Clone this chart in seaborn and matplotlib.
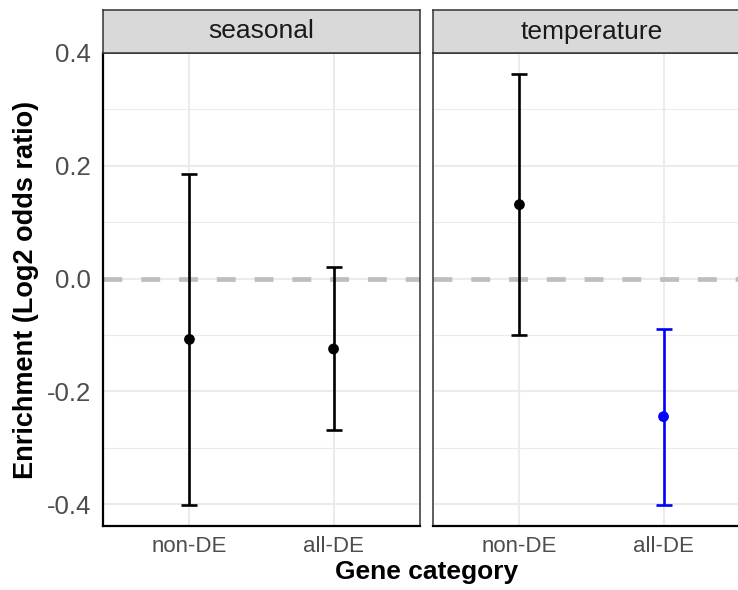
import matplotlib
matplotlib.use("Agg")
import matplotlib.pyplot as plt
import seaborn as sns
import pandas as pd

# Enrichment estimates with confidence limits per facet and gene category
facets = ["seasonal", "seasonal", "temperature", "temperature"]
categories = ["non-DE", "all-DE", "non-DE", "all-DE"]
estimate = [-0.108, -0.125, 0.131, -0.245]
lower = [-0.401, -0.269, -0.100, -0.401]
upper = [0.185, 0.020, 0.362, -0.090]
highlight = ["no", "no", "no", "yes"]

category_order = ["non-DE", "all-DE"]
facet_order = ["seasonal", "temperature"]
y_ticks = [-0.4, -0.2, 0.0, 0.2, 0.4]
y_minor = [-0.3, -0.1, 0.1, 0.3]

df = pd.DataFrame({
    "facet": facets,
    "category": categories,
    "estimate": estimate,
    "lower": lower,
    "upper": upper,
    "highlight": highlight,
})
df["xpos"] = df["category"].map({c: i for i, c in enumerate(category_order)})

sns.set_theme(style="white")
plt.rcParams["font.family"] = ["Liberation Sans", "DejaVu Sans"]

palette = {"no": "#000000", "yes": "#0000FF"}

W, H = 738, 590
fig = plt.figure(figsize=(W / 100, H / 100), dpi=100)

panel_w = 317
panel_top, panel_bot = 53, 526
strip_top = 10
lefts = [103, 433]

ymin, ymax = -0.439, 0.400

for k, (facet, left) in enumerate(zip(facet_order, lefts)):
    ax = fig.add_axes([left / W, 1 - panel_bot / H, panel_w / W,
                       (panel_bot - panel_top) / H])
    sub = df[df["facet"] == facet]

    # background grid
    for yv in y_minor:
        ax.axhline(yv, color="#EBEBEB", lw=0.8, zorder=0)
    for yv in y_ticks:
        ax.axhline(yv, color="#EBEBEB", lw=1.5, zorder=0)
    for xv in range(len(category_order)):
        ax.axvline(xv, color="#EBEBEB", lw=1.5, zorder=0)

    ax.axhline(0, color="#BEBEBE", lw=3.4, ls=(0, (4.0, 4.0)), zorder=1)

    for _, r in sub.iterrows():
        c = palette[r["highlight"]]
        ax.errorbar(r["xpos"], r["estimate"],
                    yerr=[[r["estimate"] - r["lower"]], [r["upper"] - r["estimate"]]],
                    fmt="none", ecolor=c, elinewidth=1.9, capsize=5.5,
                    capthick=1.9, zorder=2)
    sns.scatterplot(data=sub, x="xpos", y="estimate", hue="highlight",
                    palette=palette, s=60, edgecolor="none", legend=False,
                    ax=ax, zorder=3)

    ax.set_xlim(-0.6, 1.6)
    ax.set_ylim(ymin, ymax)
    ax.set_xticks(range(len(category_order)))
    ax.set_xticklabels(category_order)
    ax.set_yticks(y_ticks)
    ax.set_yticklabels([f"{v:.1f}" for v in y_ticks])
    ax.set_xlabel("")
    ax.set_ylabel("")
    ax.tick_params(axis="x", length=4.5, width=1.1, color="#333333",
                   labelsize=16, labelcolor="#4D4D4D", pad=3)
    ax.tick_params(axis="y", length=4.5, width=1.1, color="#333333",
                   labelsize=18.5, labelcolor="#4D4D4D", pad=4)
    if k > 0:
        ax.tick_params(axis="y", left=False, labelleft=False)

    for side in ["top", "right"]:
        ax.spines[side].set_color("#333333")
        ax.spines[side].set_linewidth(1.1)
    ax.spines["left"].set_color("#333333" if k > 0 else "#000000")
    ax.spines["left"].set_linewidth(1.1 if k > 0 else 1.6)
    ax.spines["bottom"].set_color("#000000")
    ax.spines["bottom"].set_linewidth(1.6)

    # facet strip
    sax = fig.add_axes([left / W, 1 - panel_top / H, panel_w / W,
                        (panel_top - strip_top) / H])
    sax.set_facecolor("#D9D9D9")
    sax.set_xticks([])
    sax.set_yticks([])
    for sp in sax.spines.values():
        sp.set_color("#333333")
        sp.set_linewidth(1.1)
    sax.text(0.5, 0.5, facet, ha="center", va="center", fontsize=19,
             color="#1A1A1A", transform=sax.transAxes)

fig.text((103 + 433 + 317) / 2 / W, 1 - 579 / H, "Gene category",
         ha="center", va="baseline", fontsize=19, fontweight="bold",
         color="black")
fig.text(26 / W, 1 - ((panel_top + panel_bot) / 2) / H,
         "Enrichment (Log2 odds ratio)", ha="center", va="center",
         rotation=90, fontsize=19.5, fontweight="bold", color="black")

fig.savefig("out.png", dpi=100)
